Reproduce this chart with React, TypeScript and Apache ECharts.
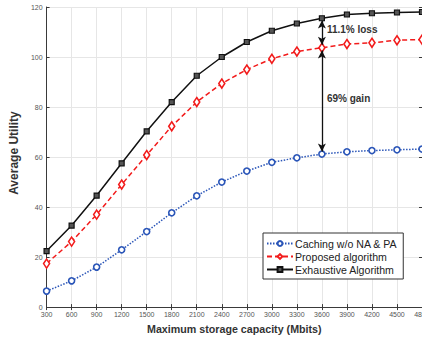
import React, { useEffect, useRef } from "react";
import * as echarts from "echarts";

const capacities = [300, 600, 900, 1200, 1500, 1800, 2100, 2400, 2700, 3000, 3300, 3600, 3900, 4200, 4500, 4800];
const cachingNoNaPa = [6.4, 10.5, 16, 22.9, 30.2, 37.7, 44.5, 50, 54.4, 57.9, 59.7, 61.2, 62.1, 62.6, 62.9, 63.2];
const proposed = [17.4, 26.2, 37, 49, 60.8, 72.3, 82, 89.4, 95, 99.3, 102.2, 103.7, 105.2, 105.7, 106.7, 107];
const exhaustive = [22.4, 32.6, 44.6, 57.5, 70.3, 82, 92.5, 100, 106, 110.5, 113.4, 115.5, 117, 117.5, 117.8, 118];
const seriesNames = ["Caching w/o NA & PA", "Proposed algorithm", "Exhaustive Algorithm"];
const annotationX = 3600;
const lossArrow = [114.6, 104.9];
const gainArrow = [102.6, 62.2];
const lossLabel = { y: 111.2, text: "11.1% loss" };
const gainLabel = { y: 83.4, text: "69% gain" };

const FONT = "Liberation Sans, Arial, sans-serif";

export default function App() {
  const ref = useRef<HTMLDivElement>(null);
  useEffect(() => {
    if (!ref.current) return;
    const chart = echarts.init(ref.current, undefined, { renderer: "svg" });
    const pairs = (ys: number[]) => capacities.map((x, i) => [x, ys[i]]);
    const axisLineColor = "#3a3a3a";
    const tickLabel = { color: "#555", fontSize: 7, fontFamily: FONT, formatter: (v: number) => String(v) };
    chart.setOption({
      animation: false,
      backgroundColor: "#fff",
      textStyle: { fontFamily: FONT },
      grid: { left: 42, right: 18, top: 7, bottom: 30, containLabel: false },
      legend: {
        orient: "vertical",
        left: 263,
        top: 233,
        data: seriesNames,
        backgroundColor: "#fff",
        borderColor: "#333",
        borderWidth: 1,
        padding: [5, 6, 4, 3],
        itemGap: 2,
        itemWidth: 26,
        itemHeight: 6,
        textStyle: { fontSize: 10.6, color: "#222", fontFamily: FONT, padding: [0, 0, 0, -3] },
      },
      xAxis: [
        {
          type: "value",
          min: 300,
          max: 4800,
          interval: 300,
          name: "Maximum storage capacity (Mbits)",
          nameLocation: "middle",
          nameGap: 15,
          nameTextStyle: { fontSize: 10.7, fontWeight: "bold", color: "#333", fontFamily: FONT },
          axisLine: { lineStyle: { color: axisLineColor, width: 1 } },
          axisTick: { inside: true, length: 3, lineStyle: { color: axisLineColor } },
          axisLabel: { ...tickLabel, margin: 4 },
          splitLine: { show: true, lineStyle: { color: "#e6e6e6", width: 1 } },
        },
        {
          type: "value",
          position: "top",
          min: 300,
          max: 4800,
          interval: 300,
          axisLine: { lineStyle: { color: axisLineColor, width: 1 } },
          axisTick: { inside: true, length: 3, lineStyle: { color: axisLineColor } },
          axisLabel: { show: false },
          splitLine: { show: false },
        },
      ],
      yAxis: [
        {
          type: "value",
          min: 0,
          max: 120,
          interval: 20,
          name: "Average Utility",
          nameLocation: "middle",
          nameGap: 12,
          nameTextStyle: { fontSize: 12, fontWeight: "bold", color: "#333", fontFamily: FONT, padding: [0, 0, 0, 8] },
          axisLine: { show: true, lineStyle: { color: axisLineColor, width: 1 } },
          axisTick: { show: true, inside: true, length: 3, lineStyle: { color: axisLineColor } },
          axisLabel: { ...tickLabel, margin: 4 },
          splitLine: { show: true, lineStyle: { color: "#e6e6e6", width: 1 } },
        },
        {
          type: "value",
          position: "right",
          min: 0,
          max: 120,
          interval: 20,
          axisLine: { show: true, lineStyle: { color: axisLineColor, width: 1 } },
          axisTick: { show: true, inside: true, length: 3, lineStyle: { color: axisLineColor } },
          axisLabel: { show: false },
          splitLine: { show: false },
        },
      ],
      series: [
        {
          name: seriesNames[0],
          type: "line",
          data: pairs(cachingNoNaPa),
          symbol: "circle",
          symbolSize: 6,
          lineStyle: { color: "#2a55b8", width: 1.5, type: [1.5, 1.5] },
          itemStyle: { color: "#fff", borderColor: "#2a55b8", borderWidth: 1.6 },
          z: 3,
        },
        {
          name: seriesNames[1],
          type: "line",
          data: pairs(proposed),
          symbol: "diamond",
          symbolSize: [6, 9],
          lineStyle: { color: "#f21b1b", width: 1.5, type: [5, 3] },
          itemStyle: { color: "#fff", borderColor: "#f21b1b", borderWidth: 1.6 },
          z: 4,
          markLine: {
            silent: true,
            symbol: ["arrow", "arrow"],
            symbolSize: [6, 8],
            label: { show: false },
            lineStyle: { color: "#111", width: 1.3, type: "solid" },
            data: [
              [{ coord: [annotationX, lossArrow[0]] }, { coord: [annotationX, lossArrow[1]] }],
              [{ coord: [annotationX, gainArrow[0]] }, { coord: [annotationX, gainArrow[1]] }],
            ],
          },
          markPoint: {
            silent: true,
            symbol: "circle",
            symbolSize: 0,
            label: {
              show: true,
              position: "right",
              distance: 5,
              color: "#333",
              fontSize: 10,
              fontWeight: "bold",
              fontFamily: FONT,
              formatter: (p: any) => p.name,
            },
            data: [
              { name: lossLabel.text, coord: [annotationX, lossLabel.y] },
              { name: gainLabel.text, coord: [annotationX, gainLabel.y] },
            ],
          },
        },
        {
          name: seriesNames[2],
          type: "line",
          data: pairs(exhaustive),
          symbol: "rect",
          symbolSize: 5,
          lineStyle: { color: "#111", width: 1.5 },
          itemStyle: { color: "#555", borderColor: "#111", borderWidth: 1.2 },
          z: 5,
        },
      ],
    });
    return () => chart.dispose();
  }, []);
  return (
    <div style={{ position: "fixed", left: 0, top: 0, width: 422, height: 339, overflow: "hidden", background: "#fff" }}>
      <div ref={ref} style={{ width: 440, height: 339 }} />
    </div>
  );
}
